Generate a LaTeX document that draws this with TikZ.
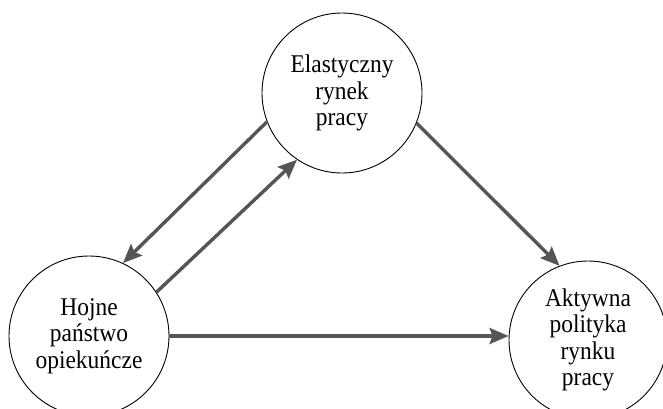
\documentclass[tikz,border=0pt]{standalone}
\usepackage{fontspec}
\setmainfont{Liberation Serif}[FakeStretch=0.92]
\usetikzlibrary{arrows.meta}
\definecolor{arrowgrey}{HTML}{555555}
\tikzset{
  bubble/.style={draw=black, line width=0.9pt, circle, minimum size=160pt, inner sep=0pt,
    align=center, font=\fontsize{25.5}{26.3}\selectfont},
  link/.style={draw=arrowgrey, line width=3.4pt,
    -{Stealth[length=19pt,width=16pt,inset=3pt]}}
}
\begin{document}
\begin{tikzpicture}[x=1pt,y=-1pt]
\useasboundingbox (0,0) rectangle (663,408);
\clip (0,0) rectangle (663,408);
\node[bubble] (top) at (342,93) {Elastyczny\\rynek\\pracy};
\node[bubble] (bl) at (89,336) {Hojne\\państwo\\opiekuńcze};
\node[bubble, minimum size=158pt] (br) at (588,340) {Aktywna\\polityka\\rynku\\pracy};
\draw[link] (top.201) -- (bl.65);
\draw[link] (bl.33) -- (top.236);
\draw[link] (top.338) -- (br.111);
\draw[link] (bl.east) -- (bl.east -| br.west);
\end{tikzpicture}
\end{document}
